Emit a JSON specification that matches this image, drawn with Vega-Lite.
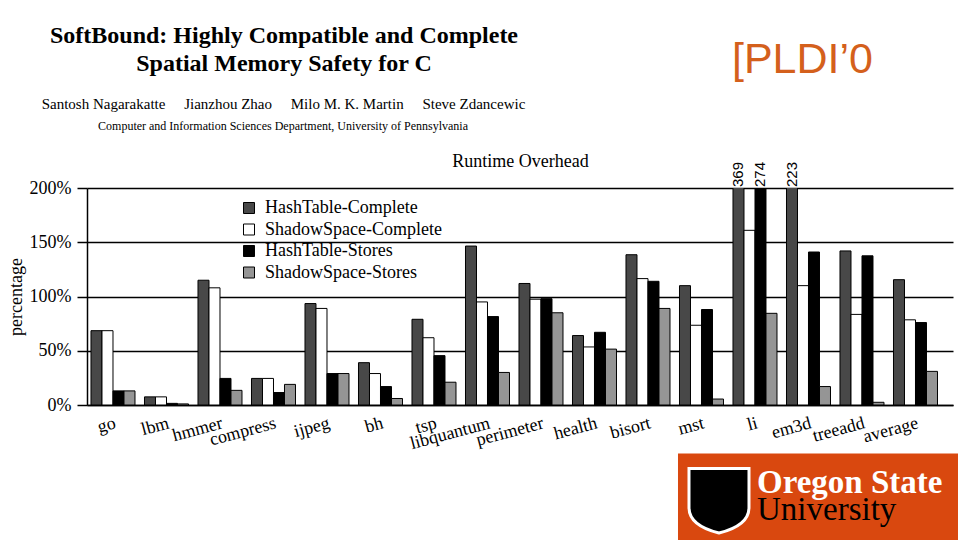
{
  "$schema": "https://vega.github.io/schema/vega-lite/v6.json",
  "width": 866,
  "height": 217,
  "autosize": {"type": "none"},
  "padding": {"left": 87, "top": 188, "right": 7, "bottom": 135},
  "background": "white",
  "data": {
    "values": [
      {"bench": "go", "series": "HashTable-Complete", "value": 68.5},
      {"bench": "go", "series": "ShadowSpace-Complete", "value": 68.5},
      {"bench": "go", "series": "HashTable-Stores", "value": 13},
      {"bench": "go", "series": "ShadowSpace-Stores", "value": 13},
      {"bench": "lbm", "series": "HashTable-Complete", "value": 7.5},
      {"bench": "lbm", "series": "ShadowSpace-Complete", "value": 7.5},
      {"bench": "lbm", "series": "HashTable-Stores", "value": 1.5},
      {"bench": "lbm", "series": "ShadowSpace-Stores", "value": 1},
      {"bench": "hmmer", "series": "HashTable-Complete", "value": 115},
      {"bench": "hmmer", "series": "ShadowSpace-Complete", "value": 108},
      {"bench": "hmmer", "series": "HashTable-Stores", "value": 24.5},
      {"bench": "hmmer", "series": "ShadowSpace-Stores", "value": 13.5},
      {"bench": "compress", "series": "HashTable-Complete", "value": 24.5},
      {"bench": "compress", "series": "ShadowSpace-Complete", "value": 24.5},
      {"bench": "compress", "series": "HashTable-Stores", "value": 11.5},
      {"bench": "compress", "series": "ShadowSpace-Stores", "value": 19},
      {"bench": "ijpeg", "series": "HashTable-Complete", "value": 93.5},
      {"bench": "ijpeg", "series": "ShadowSpace-Complete", "value": 89},
      {"bench": "ijpeg", "series": "HashTable-Stores", "value": 29},
      {"bench": "ijpeg", "series": "ShadowSpace-Stores", "value": 29},
      {"bench": "bh", "series": "HashTable-Complete", "value": 39},
      {"bench": "bh", "series": "ShadowSpace-Complete", "value": 29},
      {"bench": "bh", "series": "HashTable-Stores", "value": 17},
      {"bench": "bh", "series": "ShadowSpace-Stores", "value": 6},
      {"bench": "tsp", "series": "HashTable-Complete", "value": 79},
      {"bench": "tsp", "series": "ShadowSpace-Complete", "value": 62},
      {"bench": "tsp", "series": "HashTable-Stores", "value": 45.5},
      {"bench": "tsp", "series": "ShadowSpace-Stores", "value": 21},
      {"bench": "libquantum", "series": "HashTable-Complete", "value": 146.5},
      {"bench": "libquantum", "series": "ShadowSpace-Complete", "value": 95},
      {"bench": "libquantum", "series": "HashTable-Stores", "value": 81.5},
      {"bench": "libquantum", "series": "ShadowSpace-Stores", "value": 30},
      {"bench": "perimeter", "series": "HashTable-Complete", "value": 112},
      {"bench": "perimeter", "series": "ShadowSpace-Complete", "value": 97.5},
      {"bench": "perimeter", "series": "HashTable-Stores", "value": 98},
      {"bench": "perimeter", "series": "ShadowSpace-Stores", "value": 85},
      {"bench": "health", "series": "HashTable-Complete", "value": 64},
      {"bench": "health", "series": "ShadowSpace-Complete", "value": 53.5},
      {"bench": "health", "series": "HashTable-Stores", "value": 67},
      {"bench": "health", "series": "ShadowSpace-Stores", "value": 51.5},
      {"bench": "bisort", "series": "HashTable-Complete", "value": 138.5},
      {"bench": "bisort", "series": "ShadowSpace-Complete", "value": 116.5},
      {"bench": "bisort", "series": "HashTable-Stores", "value": 114},
      {"bench": "bisort", "series": "ShadowSpace-Stores", "value": 89},
      {"bench": "mst", "series": "HashTable-Complete", "value": 110},
      {"bench": "mst", "series": "ShadowSpace-Complete", "value": 73.5},
      {"bench": "mst", "series": "HashTable-Stores", "value": 88},
      {"bench": "mst", "series": "ShadowSpace-Stores", "value": 5.5},
      {"bench": "li", "series": "HashTable-Complete", "value": 369},
      {"bench": "li", "series": "ShadowSpace-Complete", "value": 161},
      {"bench": "li", "series": "HashTable-Stores", "value": 274},
      {"bench": "li", "series": "ShadowSpace-Stores", "value": 84.5},
      {"bench": "em3d", "series": "HashTable-Complete", "value": 223},
      {"bench": "em3d", "series": "ShadowSpace-Complete", "value": 110},
      {"bench": "em3d", "series": "HashTable-Stores", "value": 141},
      {"bench": "em3d", "series": "ShadowSpace-Stores", "value": 17},
      {"bench": "treeadd", "series": "HashTable-Complete", "value": 142},
      {"bench": "treeadd", "series": "ShadowSpace-Complete", "value": 83.5},
      {"bench": "treeadd", "series": "HashTable-Stores", "value": 137.5},
      {"bench": "treeadd", "series": "ShadowSpace-Stores", "value": 2.5},
      {"bench": "average", "series": "HashTable-Complete", "value": 115.5},
      {"bench": "average", "series": "ShadowSpace-Complete", "value": 78.5},
      {"bench": "average", "series": "HashTable-Stores", "value": 76},
      {"bench": "average", "series": "ShadowSpace-Stores", "value": 31}
    ]
  },
  "resolve": {"axis": {"x": "independent", "y": "independent"}},
  "layer": [
    {
      "mark": {"type": "bar", "clip": true, "stroke": "black", "strokeWidth": 1},
      "encoding": {
        "x": {
          "field": "bench", "type": "nominal", "sort": null,
          "scale": {
            "domain": ["go", "lbm", "hmmer", "compress", "ijpeg", "bh", "tsp", "libquantum", "perimeter", "health", "bisort", "mst", "li", "em3d", "treeadd", "average"],
            "paddingInner": 0.1776, "paddingOuter": 0.1823, "align": 0.205
          },
          "axis": {
            "orient": "bottom", "title": null, "ticks": false, "grid": false,
            "domain": true, "domainColor": "black", "domainWidth": 1.5,
            "labelAngle": -15, "labelAlign": "right", "labelBaseline": "top",
            "labelPadding": 9, "labelFont": "Liberation Serif", "labelFontSize": 18,
            "labelColor": "black", "labelLimit": 200
          }
        },
        "xOffset": {
          "field": "series", "type": "nominal",
          "scale": {"domain": ["HashTable-Complete", "ShadowSpace-Complete", "HashTable-Stores", "ShadowSpace-Stores"]}
        },
        "y": {
          "field": "value", "type": "quantitative",
          "scale": {"domain": [0, 200], "nice": false},
          "axis": {
            "title": "percentage", "values": [0, 50, 100, 150, 200],
            "labelExpr": "datum.value + '%'",
            "labelFont": "Liberation Serif", "labelFontSize": 18, "labelColor": "black",
            "labelPadding": 6,
            "tickSize": 10, "tickColor": "black", "tickWidth": 1.5,
            "grid": true, "gridColor": "black", "gridWidth": 1.5, "gridOpacity": 1,
            "domain": true, "domainColor": "black", "domainWidth": 1.5,
            "titleFont": "Liberation Serif", "titleFontSize": 18, "titleFontWeight": "normal",
            "titleColor": "black", "titlePadding": 4
          }
        },
        "color": {
          "field": "series", "type": "nominal",
          "scale": {
            "domain": ["HashTable-Complete", "ShadowSpace-Complete", "HashTable-Stores", "ShadowSpace-Stores"],
            "range": ["#484848", "#ffffff", "#000000", "#959595"]
          },
          "legend": {
            "orient": "none", "legendX": 153, "legendY": 11, "title": null,
            "symbolType": "square", "symbolSize": 121, "symbolStrokeColor": "black",
            "symbolStrokeWidth": 1, "symbolOpacity": 1,
            "labelFont": "Liberation Serif", "labelFontSize": 18, "labelColor": "black",
            "labelLimit": 300,
            "rowPadding": 3.5, "labelOffset": 7, "padding": 0
          }
        }
      }
    },
    {
      "transform": [{"filter": "datum.value > 200"}],
      "mark": {"type": "text", "angle": 270, "align": "left", "baseline": "middle", "dx": 1, "font": "Liberation Sans", "fontSize": 15, "color": "black"},
      "encoding": {
        "x": {
          "field": "bench", "type": "nominal",
          "axis": {"orient": "top", "title": "Runtime Overhead", "labels": false, "ticks": false, "domain": false, "grid": false,
                   "titleFont": "Liberation Serif", "titleFontSize": 18, "titleFontWeight": "normal", "titleColor": "black", "titlePadding": 18}
        },
        "xOffset": {"field": "series", "type": "nominal"},
        "y": {"datum": 200, "axis": null},
        "text": {"field": "value", "type": "quantitative", "format": "d"}
      }
    },
    {
      "data": {"values": [{}]},
      "mark": {"type": "text", "text": "SoftBound: Highly Compatible and Complete", "align": "center", "baseline": "alphabetic", "dx": 10.5, "font": "Liberation Serif", "fontSize": 24, "fontWeight": "bold", "color": "black"},
      "encoding": {"x": {"datum": "compress", "axis": null}, "y": {"datum": 333.6, "axis": null}}
    },
    {
      "data": {"values": [{}]},
      "mark": {"type": "text", "text": "Spatial Memory Safety for C", "align": "center", "baseline": "alphabetic", "dx": 10.5, "font": "Liberation Serif", "fontSize": 24, "fontWeight": "bold", "color": "black"},
      "encoding": {"x": {"datum": "compress", "axis": null}, "y": {"datum": 307.8, "axis": null}}
    },
    {
      "data": {"values": [{}]},
      "mark": {"type": "text", "text": "Santosh Nagarakatte\u00a0\u00a0\u00a0\u00a0\u00a0Jianzhou Zhao\u00a0\u00a0\u00a0\u00a0\u00a0Milo M. K. Martin\u00a0\u00a0\u00a0\u00a0\u00a0Steve Zdancewic", "align": "center", "baseline": "alphabetic", "dx": 10, "font": "Liberation Serif", "fontSize": 15, "color": "black"},
      "encoding": {"x": {"datum": "compress", "axis": null}, "y": {"datum": 272.8, "axis": null}}
    },
    {
      "data": {"values": [{}]},
      "mark": {"type": "text", "text": "Computer and Information Sciences Department, University of Pennsylvania", "align": "center", "baseline": "alphabetic", "dx": 9.5, "font": "Liberation Serif", "fontSize": 12, "color": "black"},
      "encoding": {"x": {"datum": "compress", "axis": null}, "y": {"datum": 253.5, "axis": null}}
    },
    {
      "data": {"values": [{}]},
      "mark": {"type": "text", "text": "[PLDI\u20190", "align": "center", "baseline": "alphabetic", "dx": -6, "font": "Liberation Sans", "fontSize": 43, "color": "#d4601c"},
      "encoding": {"x": {"datum": "em3d", "axis": null}, "y": {"datum": 306, "axis": null}}
    },
    {
      "data": {"values": [{}]},
      "mark": {"type": "rect", "color": "#d9480f", "width": 280, "xOffset": 9.5},
      "encoding": {"x": {"datum": "em3d", "axis": null}, "y": {"datum": -44.7, "axis": null}, "y2": {"datum": -125}}
    },
    {
      "data": {"values": [{}]},
      "mark": {"type": "point", "shape": "M-1,-1.05 L1,-1.05 L1,0.25 Q1,0.85 0,1.1 Q-1,0.85 -1,0.25 Z", "size": 3600, "filled": true, "fill": "black", "stroke": "white", "strokeWidth": 3, "opacity": 1, "xOffset": 17.5},
      "encoding": {"x": {"datum": "mst", "axis": null}, "y": {"datum": -87.6, "axis": null}}
    },
    {
      "data": {"values": [{}]},
      "mark": {"type": "text", "text": "Oregon State", "align": "left", "baseline": "alphabetic", "dx": 2, "font": "Liberation Serif", "fontSize": 33, "fontWeight": "bold", "color": "white"},
      "encoding": {"x": {"datum": "li", "axis": null}, "y": {"datum": -81.1, "axis": null}}
    },
    {
      "data": {"values": [{}]},
      "mark": {"type": "text", "text": "University", "align": "left", "baseline": "alphabetic", "dx": 2, "font": "Liberation Serif", "fontSize": 33, "color": "black"},
      "encoding": {"x": {"datum": "li", "axis": null}, "y": {"datum": -106, "axis": null}}
    }
  ],
  "config": {
    "view": {"stroke": null},
    "font": "Liberation Serif",
    "axis": {"labelFont": "Liberation Serif", "titleFont": "Liberation Serif"},
    "legend": {"labelFont": "Liberation Serif"}
  }
}
